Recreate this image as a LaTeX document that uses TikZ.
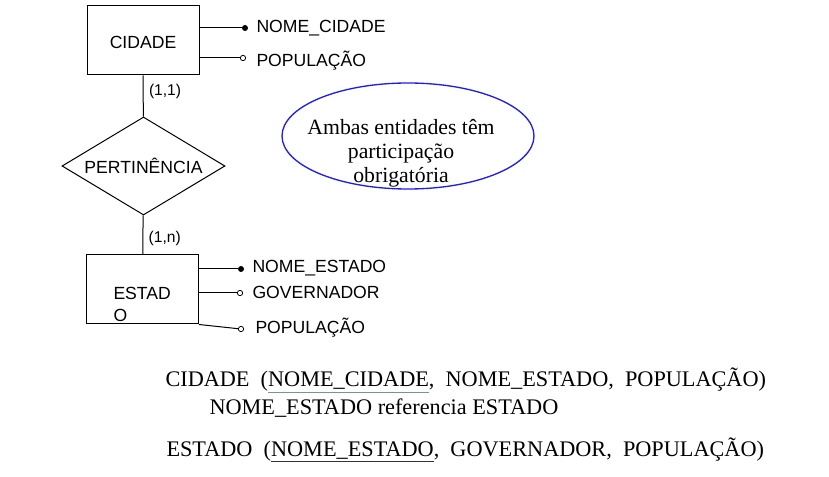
\documentclass[tikz,border=0pt]{standalone}
\usepackage{fontspec}
\setmainfont{Liberation Serif}
\newfontfamily\arialfont{Liberation Sans}
\usetikzlibrary{shapes.geometric}
\definecolor{ulgray}{RGB}{120,150,140}
\definecolor{elblue}{RGB}{30,30,235}
\newlength\ulwd
\newcommand\ulword[3]{\settowidth\ulwd{#3}\rlap{\textcolor{#1}{\rule[-#2]{\ulwd}{1pt}}}#3}
\newcommand\gap{\hspace{0.5em}}
\begin{document}
\begin{tikzpicture}[x=0.75pt,y=-0.75pt,line width=0.75pt,
ent/.style={draw,rectangle,minimum width=84pt,minimum height=51.75pt,inner sep=0pt},
rel/.style={draw,diamond,aspect=1.663,minimum width=122.25pt,minimum height=73.5pt,inner sep=0pt},
chave/.style={circle,fill,inner sep=0pt,minimum size=4.5pt},
atrib/.style={circle,draw,fill=white,inner sep=0pt,minimum size=4pt,line width=0.6pt},
er/.style={font=\arialfont\fontsize{13.2}{16.5}\selectfont},
nome/.style={er,anchor=base west,inner sep=0pt},
card/.style={font=\arialfont\fontsize{11.7}{14}\selectfont,inner sep=4pt},
esquema/.style={anchor=base west,inner sep=0pt,font=\fontsize{16.7}{18}\selectfont}]
\useasboundingbox (0,0) rectangle (829,477);

\node[ent] (0) at (143,40.5) {};
\node[er,anchor=base] (1) at (0 |- 0,49) {CIDADE};
\node[rel,er] (2) at (143.5,166) {PERTINÊNCIA};
\node[ent] (3) at (142.5,289.5) {};
\node[er,align=left,anchor=base west,inner sep=0pt] (4) at (113,322) {ESTAD\\O};

\node[chave] (5) at (245,28) {};
\node[nome] (6) at (256,32.3) {NOME\_CIDADE};
\node[atrib] (7) at (243,58) {};
\node[nome] (8) at (256,66.7) {POPULAÇÃO};

\node[chave] (9) at (241,269) {};
\node[nome] (10) at (252,273) {NOME\_ESTADO};
\node[atrib] (11) at (240,293) {};
\node[nome] (12) at (252,299) {GOVERNADOR};
\node[atrib] (13) at (241,329) {};
\node[nome] (14) at (255,334) {POPULAÇÃO};

\node[draw=elblue,ellipse,line width=1pt,minimum width=189pt,minimum height=79.5pt,inner sep=0pt] (15) at (408,136) {};
\node[align=center,font=\fontsize{16.3}{18}\selectfont] (16) at (401,153) {Ambas entidades têm\\participação\\obrigatória};

\node[esquema] (17) at (165,387) {CIDADE~\ (\ulword{ulgray}{4.5pt}{NOME\_CIDADE},\gap NOME\_ESTADO,\gap POPULAÇÃO)};
\node[esquema] (18) at (209,415) {NOME\_ESTADO referencia ESTADO};
\node[esquema] (19) at (166,456) {ESTADO~\ (\ulword{black!80}{4.5pt}{NOME\_ESTADO},\gap GOVERNADOR,\gap POPULAÇÃO)};

\draw (0)--(2)node[card,right,pos=0.39]{(1,1)};
\draw (2)--(3)node[card,right,pos=0.585]{(1,n)};
\draw (5)--(5 -| 0.east);
\draw (7)--(7 -| 0.east);
\draw (9)--(9 -| 3.east);
\draw (11)--(11 -| 3.east);
\draw (3.south east)--(13);
\end{tikzpicture}
\end{document}
